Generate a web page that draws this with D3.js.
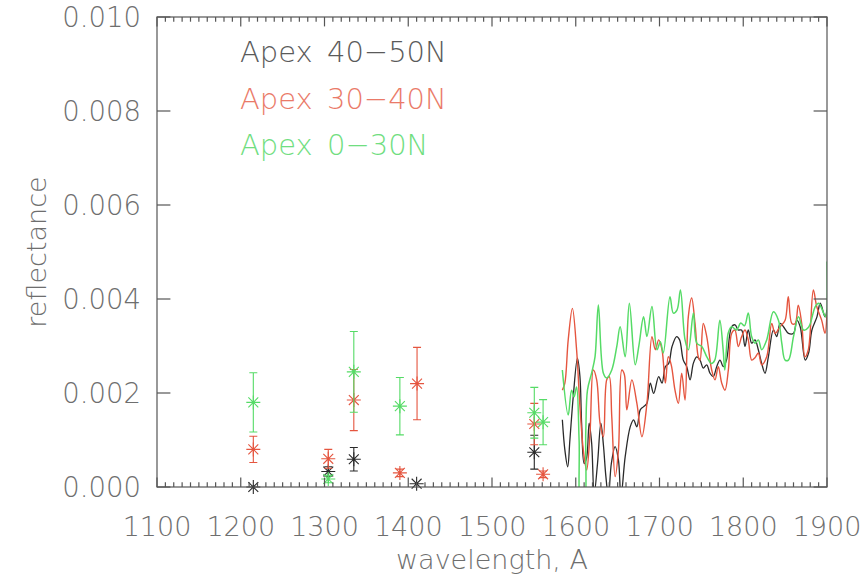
<!DOCTYPE html>
<html>
<head>
<meta charset="utf-8">
<script src="https://cdn.jsdelivr.net/npm/d3@7"></script>
<style>
  html, body { margin: 0; padding: 0; background: #fff; }
  svg { display: block; }
  text { font-family: "DejaVu Sans", sans-serif; font-weight: 200; }
</style>
</head>
<body>
<svg id="chart" width="868" height="575"></svg>
<script>
// Axis ticks
const xTicks = [1100, 1200, 1300, 1400, 1500, 1600, 1700, 1800, 1900];
const yTicks = [0.000, 0.002, 0.004, 0.006, 0.008, 0.010];
const yTickLabels = ["0.000", "0.002", "0.004", "0.006", "0.008", "0.010"];

// Legend / series names
const seriesNames = ["Apex 40\u221250N", "Apex 30\u221240N", "Apex 0\u221230N"];

// Band measurements (wavelength, reflectance, 1-sigma error)
const band4050Wl  = [1215, 1304.5, 1335, 1410, 1550.5];
const band4050Val = [0.0000, 0.00033, 0.00059, 0.00007, 0.00074];
const band4050Err = [0.0000, 0.00010, 0.00025, 0.00000, 0.00036];

const band3040Wl  = [1215, 1304.5, 1335, 1390, 1410.5, 1550.5, 1561];
const band3040Val = [0.00080, 0.00060, 0.00185, 0.00030, 0.00220, 0.00134, 0.00027];
const band3040Err = [0.00028, 0.00020, 0.00065, 0.00008, 0.00077, 0.00044, 0.00007];

const band030Wl  = [1215, 1304.5, 1335, 1390, 1550.5, 1561];
const band030Val = [0.00180, 0.00017, 0.00245, 0.00172, 0.00158, 0.00138];
const band030Err = [0.00063, 0.00008, 0.00086, 0.00061, 0.00054, 0.00048];

// Continuum spectra [wavelength, reflectance]
const spec4050 = [
  [1584,0.00143],[1587,0.00079],[1590.4,0.00043],[1593,0.00100],[1597,0.00192],[1602,0.00274],
  [1605,0.00235],[1607,0.00136],[1610,0.00050],[1613,0.00062],[1616,0.00136],[1619,0.00093],
  [1622,-0.00015],[1626,0.00050],[1630,0.00136],[1633,0.00090],[1636,0.00022],[1639,-0.00020],
  [1642.5,0.00050],[1647,0.00086],[1651,0.00057],[1654,-0.00020],[1659,0.00064],[1665,0.00128],
  [1669,0.00143],[1673,0.00128],[1677,0.00164],[1681,0.00171],[1685,0.00178],[1689,0.00221],
  [1693,0.00199],[1699,0.00235],[1703,0.00221],[1707,0.00256],[1711,0.00263],[1715,0.00299],
  [1720.5,0.00320],[1724,0.00313],[1728.4,0.00270],[1732.5,0.00256],[1736.5,0.00228],[1740.4,0.00263],
  [1744.4,0.00277],[1748.4,0.00270],[1752.3,0.00253],[1756.4,0.00260],[1760.3,0.00242],[1764.2,0.00235],
  [1768.3,0.00256],[1772.2,0.00270],[1776.2,0.00256],[1780,0.00270],[1786.2,0.00341],[1790.2,0.00345],
  [1794,0.00334],[1798,0.00334],[1802.1,0.00299],[1806,0.00334],[1810.1,0.00306],[1814,0.00313],
  [1818,0.00292],[1822,0.00263],[1826,0.00242],[1830,0.00277],[1836,0.00334],[1840,0.00320],
  [1844,0.00348],[1848,0.00341],[1854,0.00327],[1860,0.00327],[1864,0.00355],[1868,0.00341],
  [1874,0.00270],[1878,0.00285],[1882,0.00334],[1888,0.00362],[1892,0.00391],[1897.6,0.00362],
  [1900,0.00377]
];
const spec3040 = [
  [1584,0.00206],[1587,0.00221],[1591,0.00313],[1596,0.00380],[1601,0.00292],[1605,0.00171],
  [1609,0.00079],[1613,0.00036],[1617,0.00114],[1621,0.00249],[1625,0.00228],[1629,0.00136],
  [1633,0.00107],[1637,0.00228],[1640,0.00235],[1643,0.00150],[1647,0.00022],[1651,0.00079],
  [1655,0.00249],[1658,0.00240],[1661,0.00164],[1667,0.00228],[1673,0.00178],[1679,0.00107],
  [1685,0.00178],[1691,0.00320],[1695,0.00292],[1699,0.00313],[1703,0.00292],[1707,0.00221],
  [1710.5,0.00277],[1714,0.00260],[1718.5,0.00206],[1722.5,0.00178],[1726.5,0.00242],[1730.5,0.00185],
  [1734.4,0.00362],[1738.4,0.00402],[1742.4,0.00348],[1746.3,0.00277],[1748.4,0.00270],[1752.3,0.00348],
  [1756.4,0.00320],[1762.3,0.00249],[1766.3,0.00228],[1770.2,0.00256],[1774.3,0.00221],[1778.2,0.00206],
  [1782.2,0.00249],[1786.2,0.00327],[1790,0.00334],[1794.1,0.00299],[1798.1,0.00320],[1802.1,0.00334],
  [1806,0.00313],[1810.1,0.00270],[1814,0.00275],[1818,0.00285],[1822,0.00260],[1828,0.00277],
  [1834,0.00348],[1838,0.00327],[1844,0.00341],[1850,0.00355],[1853.8,0.00405],[1858,0.00348],
  [1862,0.00348],[1865.7,0.00387],[1869.8,0.00348],[1873.7,0.00277],[1877.7,0.00292],[1883.7,0.00419],
  [1887.7,0.00384],[1893.6,0.00355],[1897.6,0.00327],[1900,0.00370]
];
const spec030 = [
  [1584,0.00249],[1591,0.00153],[1595,0.00206],[1598,0.00192],[1601,0.00213],[1604,0.00100],
  [1606.5,-0.00060],[1609.5,-0.00060],[1612,0.00120],[1614,0.00206],[1619,0.00243],[1623,0.00277],
  [1627,0.00387],[1633,0.00242],[1637,0.00232],[1643,0.00249],[1649,0.00299],[1653,0.00341],
  [1659,0.00277],[1664,0.00391],[1671,0.00260],[1675.5,0.00302],[1681,0.00362],[1685,0.00320],
  [1691,0.00384],[1697,0.00292],[1701,0.00309],[1704.5,0.00285],[1712.5,0.00405],[1716.5,0.00370],
  [1721,0.00377],[1725,0.00419],[1730.5,0.00313],[1734.5,0.00292],[1740.5,0.00370],[1744.5,0.00306],
  [1750.5,0.00299],[1756.5,0.00277],[1762,0.00263],[1766,0.00270],[1772,0.00355],[1776,0.00292],
  [1778,0.00249],[1782,0.00327],[1786,0.00341],[1792,0.00334],[1797,0.00349],[1801.5,0.00343],
  [1806,0.00370],[1810,0.00320],[1814,0.00306],[1818,0.00313],[1822,0.00292],[1828,0.00313],
  [1836,0.00373],[1842,0.00355],[1846,0.00306],[1850,0.00270],[1854,0.00270],[1860,0.00320],
  [1866,0.00362],[1872,0.00334],[1878,0.00340],[1886,0.00384],[1890,0.00391],[1896,0.00370],
  [1898.5,0.00362],[1900,0.00480]
];

const colors = { black: "#2a2a2a", red: "#e5553f", green: "#55db66" };
const textColors = ["#5a5a5a", "#ea7a68", "#70de80"];
const axisColor = "#555555";
const labelColor = "#6e6e6e";

const plot = { left: 157, right: 827, top: 17, bottom: 487 };

const svg = d3.select("#chart");
const x = d3.scaleLinear().domain([1100, 1900]).range([plot.left, plot.right]);
const y = d3.scaleLinear().domain([0, 0.010]).range([plot.bottom, plot.top]);

svg.append("defs").append("clipPath").attr("id", "plotClip")
  .append("rect")
  .attr("x", plot.left).attr("y", plot.top)
  .attr("width", plot.right - plot.left).attr("height", plot.bottom - plot.top);

// Spectra
const line = d3.line().x(d => x(d[0])).y(d => y(d[1])).curve(d3.curveCatmullRom.alpha(0.5));
const lineG = svg.append("g").attr("clip-path", "url(#plotClip)");
[[spec4050, colors.black, 1.3], [spec3040, colors.red, 1.4], [spec030, colors.green, 1.5]].forEach(([data, c, w]) => {
  lineG.append("path").datum(data)
    .attr("d", line)
    .attr("fill", "none")
    .attr("stroke", c)
    .attr("stroke-width", w)
    .attr("stroke-linejoin", "round");
});

// Band points with error bars and asterisk markers
function asterisk(cx, cy, r) {
  const a = r * 0.7071;
  return `M${cx - r},${cy}L${cx + r},${cy}` +
         `M${cx},${cy - r}L${cx},${cy + r}` +
         `M${cx - a},${cy - a}L${cx + a},${cy + a}` +
         `M${cx - a},${cy + a}L${cx + a},${cy - a}`;
}
const ptG = svg.append("g");
function drawBands(wl, val, err, c) {
  wl.forEach((w, i) => {
    const cx = x(w), cy = y(val[i]);
    if (err[i] > 0) {
      const y0 = y(val[i] - err[i]), y1 = y(val[i] + err[i]);
      ptG.append("path")
        .attr("d", `M${cx},${y0}L${cx},${y1}M${cx - 4},${y0}L${cx + 4},${y0}M${cx - 4},${y1}L${cx + 4},${y1}`)
        .attr("stroke", c).attr("stroke-width", 1.1).attr("fill", "none");
    }
    ptG.append("path")
      .attr("d", asterisk(cx, cy, 7))
      .attr("stroke", c).attr("stroke-width", 1.1).attr("fill", "none");
  });
}
drawBands(band4050Wl, band4050Val, band4050Err, colors.black);
drawBands(band3040Wl, band3040Val, band3040Err, colors.red);
drawBands(band030Wl, band030Val, band030Err, colors.green);

// Frame and ticks
const axG = svg.append("g").attr("stroke", axisColor).attr("stroke-width", 1.2).attr("fill", "none");
axG.append("rect")
  .attr("x", plot.left).attr("y", plot.top)
  .attr("width", plot.right - plot.left).attr("height", plot.bottom - plot.top);

const xMinor = d3.range(1100, 1901, 10);
const xMajLen = 9.4, xMinLen = 4.7, yMajLen = 13.4;
xMinor.forEach(v => {
  const len = (v % 100 === 0) ? xMajLen : xMinLen;
  axG.append("line").attr("x1", x(v)).attr("x2", x(v)).attr("y1", plot.bottom).attr("y2", plot.bottom - len);
  axG.append("line").attr("x1", x(v)).attr("x2", x(v)).attr("y1", plot.top).attr("y2", plot.top + len);
});
yTicks.forEach(v => {
  axG.append("line").attr("x1", plot.left).attr("x2", plot.left + yMajLen).attr("y1", y(v)).attr("y2", y(v));
  axG.append("line").attr("x1", plot.right).attr("x2", plot.right - yMajLen).attr("y1", y(v)).attr("y2", y(v));
});

// Tick labels
const labelSize = 27;
svg.append("g").selectAll("text").data(xTicks).join("text")
  .attr("x", d => x(d)).attr("y", 536)
  .attr("text-anchor", "middle")
  .attr("font-size", labelSize)
  .attr("fill", labelColor)
  .text(d => d);
svg.append("g").selectAll("text").data(yTicks).join("text")
  .attr("x", 141).attr("y", d => y(d) + 10)
  .attr("text-anchor", "end")
  .attr("font-size", 27.5)
  .attr("fill", labelColor)
  .text((d, i) => yTickLabels[i]);

// Axis titles
svg.append("text")
  .attr("x", (plot.left + plot.right) / 2).attr("y", 569)
  .attr("text-anchor", "middle").attr("font-size", labelSize).attr("fill", labelColor)
  .text("wavelength, A");
svg.append("text")
  .attr("transform", `translate(46,${(plot.top + plot.bottom) / 2}) rotate(-90)`)
  .attr("text-anchor", "middle").attr("font-size", labelSize).attr("fill", labelColor)
  .text("reflectance");

// Legend
seriesNames.forEach((name, i) => {
  svg.append("text")
    .attr("x", 240).attr("y", 62 + i * 46.7)
    .attr("font-size", 29)
    .attr("word-spacing", 5)
    .attr("fill", textColors[i])
    .text(name);
});
</script>
</body>
</html>
